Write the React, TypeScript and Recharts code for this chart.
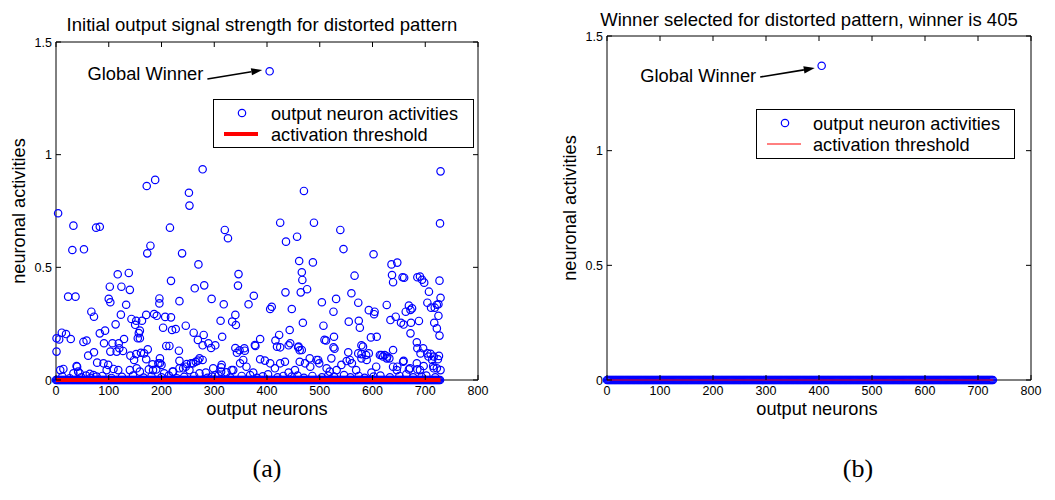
import React from 'react';
import { ScatterChart, Scatter, XAxis, YAxis, ReferenceLine, Legend } from 'recharts';

const FONT = '"Liberation Sans", Arial, Helvetica, sans-serif';
const SERIF = '"Liberation Serif", "Times New Roman", serif';

// Axis ticks shared by both panels
const neuronTicks = [0, 100, 200, 300, 400, 500, 600, 700, 800];
const activityTicks = [0, 0.5, 1, 1.5];

const seriesNames = ['output neuron activities', 'activation threshold'];
const panelTitles = [
  'Initial output signal strength for distorted pattern',
  'Winner selected for distorted pattern, winner is 405',
];
const captions = ['(a)', '(b)'];

const winnerNeuron = 405;
const winnerActivity = 1.37;
const lastNeuron = 729;
const thresholdLevel = 0;

// Neurons sitting at zero activity (drawn as the dense band along the x axis)
const silentNeurons = [
  0, 2, 4, 6, 8, 10, 12, 14, 16, 18, 20, 22, 24, 26, 28, 30, 32, 34, 36, 38, 40, 42, 44, 46, 48,
  50, 52, 54, 56, 58, 60, 62, 64, 66, 68, 70, 72, 74, 76, 78, 80, 82, 84, 86, 88, 90, 92, 94, 96, 98,
  100, 102, 104, 106, 108, 110, 112, 114, 116, 118, 120, 122, 124, 126, 128, 130, 132, 134, 136, 138, 140, 142, 144, 146, 148,
  150, 152, 154, 156, 158, 160, 162, 164, 166, 168, 170, 172, 174, 176, 178, 180, 182, 184, 186, 188, 190, 192, 194, 196, 198,
  200, 202, 204, 206, 208, 210, 212, 214, 216, 218, 220, 222, 224, 226, 228, 230, 232, 234, 236, 238, 240, 242, 244, 246, 248,
  250, 252, 254, 256, 258, 260, 262, 264, 266, 268, 270, 272, 274, 276, 278, 280, 282, 284, 286, 288, 290, 292, 294, 296, 298,
  300, 302, 304, 306, 308, 310, 312, 314, 316, 318, 320, 322, 324, 326, 328, 330, 332, 334, 336, 338, 340, 342, 344, 346, 348,
  350, 352, 354, 356, 358, 360, 362, 364, 366, 368, 370, 372, 374, 376, 378, 380, 382, 384, 386, 388, 390, 392, 394, 396, 398,
  400, 402, 404, 406, 408, 410, 412, 414, 416, 418, 420, 422, 424, 426, 428, 430, 432, 434, 436, 438, 440, 442, 444, 446, 448,
  450, 452, 454, 456, 458, 460, 462, 464, 466, 468, 470, 472, 474, 476, 478, 480, 482, 484, 486, 488, 490, 492, 494, 496, 498,
  500, 502, 504, 506, 508, 510, 512, 514, 516, 518, 520, 522, 524, 526, 528, 530, 532, 534, 536, 538, 540, 542, 544, 546, 548,
  550, 552, 554, 556, 558, 560, 562, 564, 566, 568, 570, 572, 574, 576, 578, 580, 582, 584, 586, 588, 590, 592, 594, 596, 598,
  600, 602, 604, 606, 608, 610, 612, 614, 616, 618, 620, 622, 624, 626, 628, 630, 632, 634, 636, 638, 640, 642, 644, 646, 648,
  650, 652, 654, 656, 658, 660, 662, 664, 666, 668, 670, 672, 674, 676, 678, 680, 682, 684, 686, 688, 690, 692, 694, 696, 698,
  700, 702, 704, 706, 708, 710, 712, 714, 716, 718, 720, 722, 724, 726, 728,
];

// [neuron index, initial activity] for neurons responding to the distorted pattern
const activeNeurons: [number, number][] = [
  [4, 0.74], [33, 0.685], [76, 0.676], [83, 0.68], [31, 0.577], [53, 0.58], [117, 0.469], [138, 0.475],
  [102, 0.414], [124, 0.414], [140, 0.4], [23, 0.37], [37, 0.37], [100, 0.36], [103, 0.345], [133, 0.334],
  [67, 0.303], [72, 0.281], [123, 0.29], [143, 0.271], [113, 0.247], [150, 0.245], [93, 0.219], [83, 0.207],
  [1, 0.185], [11, 0.21], [19, 0.204], [6, 0.18], [28, 0.182], [52, 0.169], [58, 0.175], [91, 0.163],
  [107, 0.163], [119, 0.163], [129, 0.182], [120, 0.141], [127, 0.129], [115, 0.126], [103, 0.126], [72, 0.123],
  [61, 0.108], [1, 0.126], [141, 0.108], [148, 0.089], [40, 0.059], [78, 0.077], [90, 0.074], [99, 0.067],
  [109, 0.049], [118, 0.044], [96, 0.044], [8, 0.044], [14, 0.049], [33, 0.03], [45, 0.03], [57, 0.02], [71, 0.022],

  [278, 0.935], [172, 0.861], [188, 0.888], [252, 0.831], [253, 0.774], [216, 0.676], [179, 0.596], [173, 0.562],
  [239, 0.562], [270, 0.513], [218, 0.44], [263, 0.407], [281, 0.42], [196, 0.362], [196, 0.34], [234, 0.35],
  [295, 0.36], [171, 0.289], [186, 0.293], [191, 0.285], [207, 0.28], [218, 0.278], [152, 0.263], [163, 0.263],
  [246, 0.241], [312, 0.263], [203, 0.232], [220, 0.222], [227, 0.226], [159, 0.219], [157, 0.208], [159, 0.185],
  [155, 0.185], [261, 0.21], [280, 0.2], [269, 0.178], [209, 0.151], [215, 0.151], [233, 0.13], [278, 0.154],
  [289, 0.163], [302, 0.154], [294, 0.142], [174, 0.136], [161, 0.121], [167, 0.118], [152, 0.115], [197, 0.096],
  [197, 0.074], [234, 0.085], [256, 0.074], [265, 0.081], [278, 0.089], [272, 0.096], [171, 0.092], [183, 0.07],
  [176, 0.047], [190, 0.047], [205, 0.03], [221, 0.037], [234, 0.052], [246, 0.059], [253, 0.044], [272, 0.03],
  [284, 0.033], [302, 0.022], [313, 0.056], [313, 0.037],

  [470, 0.839], [320, 0.666], [326, 0.629], [425, 0.698], [436, 0.614], [457, 0.636], [461, 0.528], [466, 0.478],
  [467, 0.444], [464, 0.389], [476, 0.403], [346, 0.47], [345, 0.419], [375, 0.374], [365, 0.336], [435, 0.389],
  [447, 0.315], [406, 0.315], [409, 0.325], [318, 0.336], [334, 0.259], [341, 0.244], [340, 0.289], [315, 0.192],
  [468, 0.254], [443, 0.222], [387, 0.182], [378, 0.151], [416, 0.175], [423, 0.2], [419, 0.148], [425, 0.145],
  [340, 0.142], [343, 0.121], [358, 0.13], [441, 0.154], [460, 0.148], [466, 0.133], [348, 0.132], [357, 0.141],
  [377, 0.155], [444, 0.163], [459, 0.145], [462, 0.132],

  [489, 0.698], [539, 0.666], [545, 0.581], [602, 0.558], [487, 0.522], [566, 0.463], [636, 0.513], [637, 0.466],
  [639, 0.434], [560, 0.385], [573, 0.343], [627, 0.333], [504, 0.345], [531, 0.36], [526, 0.303], [593, 0.31],
  [604, 0.303], [603, 0.292], [555, 0.259], [574, 0.263], [576, 0.232], [634, 0.266], [507, 0.241], [509, 0.178],
  [512, 0.175], [527, 0.192], [526, 0.145], [528, 0.139], [597, 0.189], [608, 0.192], [579, 0.154], [582, 0.148],
  [554, 0.123], [573, 0.118], [588, 0.111], [593, 0.118], [614, 0.111], [623, 0.111], [628, 0.104], [639, 0.133],
  [481, 0.096], [497, 0.089], [522, 0.096], [541, 0.067], [557, 0.089], [579, 0.096], [607, 0.059], [617, 0.111],
  [632, 0.096],

  [729, 0.926], [728, 0.695], [647, 0.521], [660, 0.454], [657, 0.456], [685, 0.456], [690, 0.459], [694, 0.445],
  [698, 0.432], [727, 0.441], [729, 0.365], [707, 0.392], [704, 0.343], [711, 0.321], [722, 0.334], [718, 0.321],
  [725, 0.336], [725, 0.285], [727, 0.197], [717, 0.254], [722, 0.229], [713, 0.089], [724, 0.092], [669, 0.33],
  [675, 0.318], [672, 0.311], [663, 0.303], [644, 0.281], [654, 0.254], [659, 0.246], [673, 0.254], [688, 0.262],
  [672, 0.207], [684, 0.167], [685, 0.141], [696, 0.141], [704, 0.118], [710, 0.116], [716, 0.104], [726, 0.107],
  [691, 0.118], [697, 0.062], [716, 0.052], [659, 0.085], [647, 0.059], [669, 0.047], [685, 0.047],

  [39, 0.062], [42, 0.037], [64, 0.027], [77, 0.015], [140, 0.044], [153, 0.052], [159, 0.037], [184, 0.044],
  [194, 0.074], [200, 0.067], [222, 0.037], [241, 0.052], [248, 0.071], [260, 0.074], [269, 0.086], [298, 0.052],
  [314, 0.067], [323, 0.034], [333, 0.044], [336, 0.044], [349, 0.074], [355, 0.089], [361, 0.059], [374, 0.033],
  [387, 0.092], [396, 0.086], [406, 0.074], [415, 0.052], [425, 0.074], [434, 0.081], [441, 0.033], [453, 0.044],
  [462, 0.081], [472, 0.074], [482, 0.059], [494, 0.089], [499, 0.074], [513, 0.052], [519, 0.037], [532, 0.044],
  [551, 0.084], [561, 0.074], [569, 0.044], [579, 0.115], [589, 0.089], [598, 0.033], [620, 0.104], [627, 0.096],
  [639, 0.059], [646, 0.044], [658, 0.081], [671, 0.052], [684, 0.074], [690, 0.044], [706, 0.104], [715, 0.062],
  [722, 0.052], [729, 0.044],

  [12, 0.015], [26, 0.008], [48, 0.012], [66, 0.01], [88, 0.018], [105, 0.009], [125, 0.014], [146, 0.02],
  [166, 0.011], [181, 0.016], [200, 0.012], [214, 0.02], [229, 0.008], [243, 0.014], [262, 0.018], [287, 0.01],
  [296, 0.015], [308, 0.02], [330, 0.012], [352, 0.018], [368, 0.022], [381, 0.01], [392, 0.016], [402, 0.025],
  [420, 0.012], [431, 0.018], [447, 0.015], [458, 0.02], [470, 0.01], [486, 0.018], [504, 0.012], [516, 0.02],
  [527, 0.015], [546, 0.022], [558, 0.012], [574, 0.018], [585, 0.01], [602, 0.015], [615, 0.02], [633, 0.012],
  [651, 0.018], [664, 0.025], [677, 0.012], [693, 0.015], [702, 0.02], [719, 0.012],
];

type Pt = { neuron: number; activity: number };

const silentPoints: Pt[] = silentNeurons.map((n) => ({ neuron: n, activity: 0 }));
const winnerPoint: Pt = { neuron: winnerNeuron, activity: winnerActivity };
const initialPoints: Pt[] = [
  ...silentPoints,
  ...activeNeurons.map(([n, a]) => ({ neuron: n, activity: a })),
  winnerPoint,
];
const selectedPoints: Pt[] = [...silentPoints, winnerPoint];
const thresholdPoints: Pt[] = [
  { neuron: 0, activity: thresholdLevel },
  { neuron: lastNeuron, activity: thresholdLevel },
];

const RING_R = 3.7;

const Ring = (props: any) => {
  const { cx, cy } = props;
  if (cx == null || cy == null) return <g />;
  return <circle cx={cx} cy={cy} r={RING_R} fill="none" stroke="#0000ff" strokeWidth={1.2} />;
};

const NoMarker = () => <g />;

type Box = { left: number; top: number; right: number; bottom: number };

type PanelProps = {
  x: number;
  width: number;
  height: number;
  plot: Box;
  points: Pt[];
  thresholdWidth: number;
  legend: { left: number; top: number; width: number; height: number; textX: number };
  arrowFrom: { x: number; y: number };
  arrowTo: { x: number; y: number };
  arrowTextDy: number;
  yLabelX: number;
  xLabelX: number;
};

const LegendBox = ({ box, lineWidth }: any) => (
  <svg width={box.width} height={box.height} style={{ display: 'block' }}>
    <rect x={0.5} y={0.5} width={box.width - 1} height={box.height - 1} fill="#fff" stroke="#000" strokeWidth={1} />
    <circle cx={29} cy={14} r={RING_R} fill="none" stroke="#0000ff" strokeWidth={1.2} />
    <line x1={11} x2={45} y1={35} y2={35} stroke="#ff0000" strokeWidth={lineWidth} />
    <text x={box.textX} y={14} dy="0.36em" fontSize={18.2} fontFamily={FONT} fill="#000">
      {seriesNames[0]}
    </text>
    <text x={box.textX} y={35} dy="0.36em" fontSize={18.2} fontFamily={FONT} fill="#000">
      {seriesNames[1]}
    </text>
  </svg>
);

function Panel(p: PanelProps) {
  const { plot } = p;

  const xTick = (props: any) => {
    const { x, payload } = props;
    return (
      <g>
        <line x1={x} x2={x} y1={plot.bottom} y2={plot.bottom - 5} stroke="#000" />
        <line x1={x} x2={x} y1={plot.top} y2={plot.top + 5} stroke="#000" />
        <text x={x} y={plot.bottom + 15} textAnchor="middle" fontSize={12.5} fontFamily={FONT} fill="#000">
          {payload.value}
        </text>
      </g>
    );
  };

  const yTick = (props: any) => {
    const { y, payload } = props;
    return (
      <g>
        <line x1={plot.left} x2={plot.left + 5} y1={y} y2={y} stroke="#000" />
        <line x1={plot.right} x2={plot.right - 5} y1={y} y2={y} stroke="#000" />
        <text x={plot.left - 4} y={y} dy="0.36em" textAnchor="end" fontSize={12.5} fontFamily={FONT} fill="#000">
          {payload.value}
        </text>
      </g>
    );
  };

  const xTitle = () => (
    <text x={p.xLabelX} y={plot.bottom + 35} textAnchor="middle" fontSize={18.2} fontFamily={FONT} fill="#000">
      output neurons
    </text>
  );

  const yMid = (plot.top + plot.bottom) / 2;
  const yTitle = () => (
    <text
      x={p.yLabelX}
      y={yMid}
      textAnchor="middle"
      fontSize={18.2}
      fontFamily={FONT}
      fill="#000"
      transform={`rotate(-90, ${p.yLabelX}, ${yMid})`}
    >
      neuronal activities
    </text>
  );

  const arrowShape = (props: any) => {
    const { x1, y1, x2, y2 } = props;
    const ang = Math.atan2(y2 - y1, x2 - x1);
    const len = 11;
    const half = 3.6;
    const bx = x2 - len * Math.cos(ang);
    const by = y2 - len * Math.sin(ang);
    const nx = -Math.sin(ang) * half;
    const ny = Math.cos(ang) * half;
    return (
      <g>
        <line x1={x1} y1={y1} x2={bx} y2={by} stroke="#000" strokeWidth={1.6} />
        <polygon points={`${x2},${y2} ${bx + nx},${by + ny} ${bx - nx},${by - ny}`} fill="#000" />
        <text x={x1 - 4} y={y1 + p.arrowTextDy} textAnchor="end" fontSize={18.3} fontFamily={FONT} fill="#000">
          Global Winner
        </text>
      </g>
    );
  };

  return (
    <div style={{ position: 'absolute', left: p.x, top: 0 }}>
      <ScatterChart
        width={p.width}
        height={p.height}
        margin={{ top: plot.top, right: p.width - plot.right, bottom: p.height - plot.bottom - 30, left: 0 }}
      >
        <XAxis
          type="number"
          dataKey="neuron"
          domain={[0, 800]}
          ticks={neuronTicks}
          interval={0}
          height={30}
          tickSize={0}
          tickLine={false}
          tick={xTick}
          axisLine={{ stroke: '#000', strokeWidth: 1 }}
          label={{ content: xTitle }}
        />
        <YAxis
          type="number"
          dataKey="activity"
          domain={[0, 1.5]}
          ticks={activityTicks}
          interval={0}
          width={plot.left}
          tickSize={0}
          tickLine={false}
          tick={yTick}
          axisLine={{ stroke: '#000', strokeWidth: 1 }}
          label={{ content: yTitle }}
        />
        <ReferenceLine y={1.5} stroke="#000" strokeWidth={1} />
        <ReferenceLine x={800} stroke="#000" strokeWidth={1} />
        <Scatter
          name={seriesNames[0]}
          data={p.points}
          shape={Ring}
          isAnimationActive={false}
          legendType="circle"
        />
        <Scatter
          name={seriesNames[1]}
          data={thresholdPoints}
          line={{ stroke: '#ff0000', strokeWidth: p.thresholdWidth }}
          shape={NoMarker}
          isAnimationActive={false}
          legendType="line"
        />
        <ReferenceLine
          segment={[p.arrowFrom, p.arrowTo]}
          stroke="#000"
          shape={arrowShape}
        />
        <Legend
          layout="horizontal"
          verticalAlign="middle"
          align="center"
          wrapperStyle={{
            left: p.legend.left,
            top: p.legend.top,
            width: p.legend.width,
            height: p.legend.height,
            margin: 0,
            padding: 0,
            lineHeight: 0,
          }}
          content={() => <LegendBox box={p.legend} lineWidth={p.thresholdWidth} />}
        />
      </ScatterChart>
    </div>
  );
}

export default function App() {
  return (
    <div
      style={{
        position: 'absolute',
        left: 0,
        top: 0,
        width: 1055,
        height: 500,
        background: '#fff',
        overflow: 'hidden',
      }}
    >
      <Panel
        x={0}
        width={500}
        height={440}
        plot={{ left: 56, top: 42, right: 478, bottom: 380 }}
        points={initialPoints}
        thresholdWidth={4}
        legend={{ left: 213, top: 99, width: 261, height: 49, textX: 58 }}
        arrowFrom={{ x: 287, y: 1.336 }}
        arrowTo={{ x: 391, y: 1.376 }}
        arrowTextDy={1}
        yLabelX={25}
        xLabelX={267}
      />
      <Panel
        x={520}
        width={535}
        height={440}
        plot={{ left: 87, top: 36, right: 511, bottom: 380 }}
        points={selectedPoints}
        thresholdWidth={1}
        legend={{ left: 236, top: 109, width: 259, height: 50, textX: 57 }}
        arrowFrom={{ x: 289, y: 1.321 }}
        arrowTo={{ x: 392, y: 1.36 }}
        arrowTextDy={5}
        yLabelX={56}
        xLabelX={297}
      />
      <svg
        width={1055}
        height={500}
        style={{ position: 'absolute', left: 0, top: 0, pointerEvents: 'none' }}
      >
        <text x={262} y={31} textAnchor="middle" fontSize={18.5} fontFamily={FONT} fill="#000">
          {panelTitles[0]}
        </text>
        <text x={809} y={26} textAnchor="middle" fontSize={18.5} fontFamily={FONT} fill="#000">
          {panelTitles[1]}
        </text>
        <text x={267} y={477} textAnchor="middle" fontSize={26} fontFamily={SERIF} fill="#000">
          {captions[0]}
        </text>
        <text x={858} y={477} textAnchor="middle" fontSize={26} fontFamily={SERIF} fill="#000">
          {captions[1]}
        </text>
      </svg>
    </div>
  );
}
